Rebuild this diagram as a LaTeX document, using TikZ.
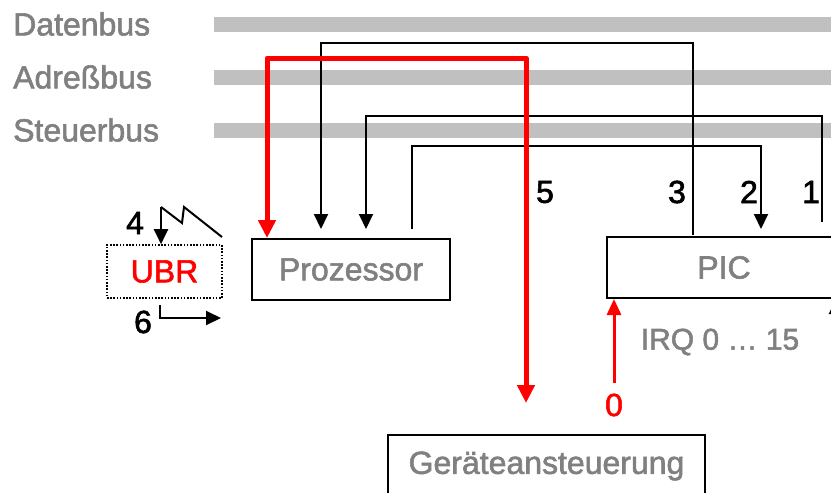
\documentclass[tikz,border=0pt]{standalone}
\usepackage{fontspec}
\setmainfont{Liberation Sans}[FakeBold=1.8]
\usetikzlibrary{arrows.meta}
\definecolor{busgray}{HTML}{C0C0C0}
\definecolor{labelgray}{HTML}{808080}
\definecolor{sigred}{HTML}{FF0000}
\tikzset{
  buslabel/.style={anchor=west, text=labelgray, font=\fontsize{32}{36}\selectfont, inner sep=0pt},
  busbar/.style={busgray, line width=15pt},
  unitbox/.style={draw=black, line width=2pt, text=labelgray, font=\fontsize{32}{36}\selectfont, inner sep=0pt},
  stepno/.style={font=\fontsize{32}{36}\selectfont, inner sep=0pt},
  wire/.style={black, line width=2pt},
  wirearrow/.style={wire, -{Triangle[width=14pt,length=15pt]}},
  redwire/.style={sigred, line width=5pt, line join=round,
    {Triangle[width=17pt,length=18pt]}-{Triangle[width=17pt,length=18pt]}},
  thinred/.style={sigred, line width=3pt, -{Triangle[width=14pt,length=16pt]}},
}
\begin{document}
\begin{tikzpicture}[x=1pt, y=-1pt]
\useasboundingbox (0,0) rectangle (831,493);
\clip (0,0) rectangle (831,493);

% bus lines with their labels
\draw[busbar] (214,24) -- (840,24);
\draw[busbar] (214,77) -- (840,77);
\draw[busbar] (214,130) -- (840,130);
\node[buslabel] (ldaten) at (13,24) {Datenbus};
\node[buslabel] (ladr) at (13,77) {Adreßbus};
\node[buslabel] (lsteuer) at (13,130) {Steuerbus};

% functional units
\node[unitbox, minimum width=198pt, minimum height=61pt] (cpu) at (351,269.5) {Prozessor};
\node[unitbox, minimum width=234pt, minimum height=61pt] (pic) at (724,267.5) {PIC};
\node[unitbox, minimum width=317pt, minimum height=62pt] (dev) at (546.5,466) {Geräteansteuerung};
\node[draw=black, line width=1.6pt, dash pattern=on 1.6pt off 1.6pt, minimum width=115pt, minimum height=53pt, inner sep=0pt,
      text=sigred, font=\fontsize{32}{36}\selectfont] (ubr) at (164.5,271.5) {UBR};

% step 1: PIC raises the request on the control bus
\coordinate (p1) at (822,222);
\draw[wirearrow] (p1) -- (822,116) -- (366,116) -- (366,229);
% step 2: processor acknowledges
\coordinate (p2) at (412,229);
\draw[wirearrow] (p2) -- (412,146) -- (761,146) -- (761,229);
% step 3: PIC puts the vector on the data bus
\coordinate (p3) at (693,235);
\draw[wirearrow] (p3) -- (693,43) -- (321,43) -- (321,229);
% step 5: processor and device exchange data
\coordinate (devin) at (526,403);
\draw[redwire] (cpu.north west -| 267,0) -- (267,58) -- (526,58) -- (devin);
% step 0: device interrupt request
\coordinate (irq0) at (614,383);
\draw[thinred] (irq0) -- (pic.south west -| 614,0);
% further IRQ line at the right
\coordinate (irqn) at (836,345);
\draw[wirearrow] (irqn) -- (pic.south east -| 836,0);

% step numbers
\node[stepno] (n5) at (545,192) {5};
\node[stepno] (n3) at (677,192) {3};
\node[stepno] (n2) at (749,192) {2};
\node[stepno] (n1) at (811,192) {1};
\node[stepno, text=sigred] (n0) at (614,405) {0};
\node[text=labelgray, font=\fontsize{30}{34}\selectfont, inner sep=0pt] (irq) at (720,342) {IRQ 0 … 15};

% interrupt service routine: entry (4) and return (6)
\node[stepno] (n4) at (135,223) {4};
\node[stepno] (n6) at (143,322) {6};
\coordinate (z0) at (161,207);
\draw[wire, line join=miter] (222,237) -- (184,207) -- (182,223) -- (z0);
\draw[wirearrow] (z0) -- (ubr.north -| 161,0);
\coordinate (r0) at (160,305);
\draw[wirearrow] (r0) -- (160,318) -- (221,318);
\end{tikzpicture}
\end{document}
